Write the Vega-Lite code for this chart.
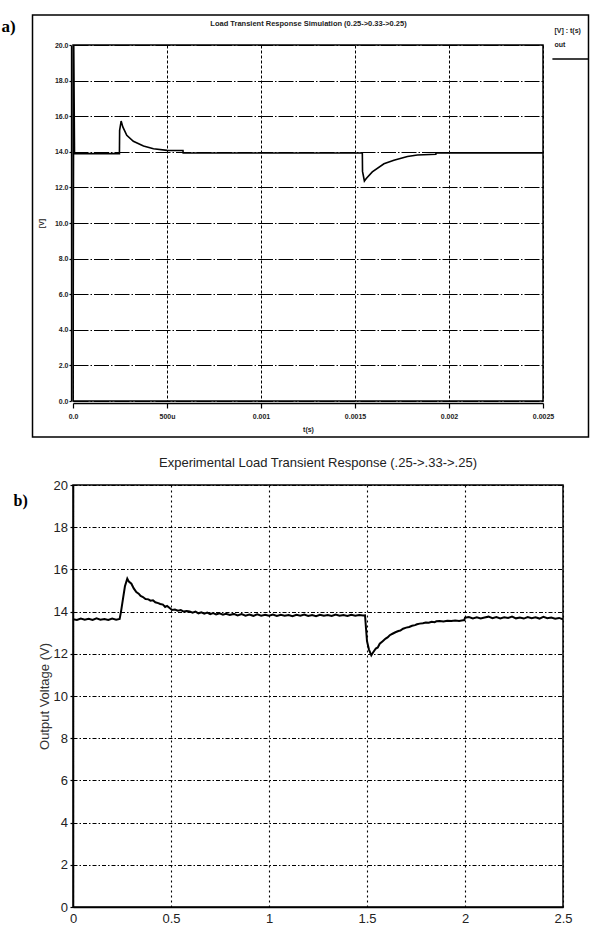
{
  "$schema": "https://vega.github.io/schema/vega-lite/v6.json",
  "background": "white",
  "padding": {"left": 0, "top": 13, "right": 0, "bottom": 5},
  "spacing": 84,
  "bounds": "flush",
  "config": {
    "font": "Liberation Sans",
    "view": {"stroke": "black", "strokeWidth": 1.5}
  },
  "datasets": {
    "sim": [
      {"t": 0, "v": 0}, {"t": 0.000004, "v": 20}, {"t": 0.000008, "v": 13.9},
      {"t": 0.000247, "v": 13.9}, {"t": 0.000248, "v": 15.2}, {"t": 0.000256, "v": 15.73},
      {"t": 0.000265, "v": 15.4}, {"t": 0.000286, "v": 14.93}, {"t": 0.000321, "v": 14.59},
      {"t": 0.000375, "v": 14.33}, {"t": 0.000428, "v": 14.17}, {"t": 0.0005, "v": 14.08},
      {"t": 0.000585, "v": 14.07}, {"t": 0.000586, "v": 13.93}, {"t": 0.001539, "v": 13.93},
      {"t": 0.00154, "v": 12.9}, {"t": 0.00155, "v": 12.36}, {"t": 0.00156, "v": 12.5},
      {"t": 0.001592, "v": 12.87}, {"t": 0.001654, "v": 13.33}, {"t": 0.001707, "v": 13.52},
      {"t": 0.001779, "v": 13.74}, {"t": 0.001832, "v": 13.82}, {"t": 0.00193, "v": 13.86},
      {"t": 0.001931, "v": 13.94}, {"t": 0.0025, "v": 13.94}
    ],
    "exp": [
      {"t": 0, "v": 13.64}, {"t": 0.02, "v": 13.6}, {"t": 0.04, "v": 13.67}, {"t": 0.06, "v": 13.62},
      {"t": 0.08, "v": 13.66}, {"t": 0.1, "v": 13.6}, {"t": 0.12, "v": 13.68}, {"t": 0.14, "v": 13.62},
      {"t": 0.16, "v": 13.65}, {"t": 0.18, "v": 13.6}, {"t": 0.2, "v": 13.67}, {"t": 0.22, "v": 13.62},
      {"t": 0.238, "v": 13.65}, {"t": 0.245, "v": 14.0}, {"t": 0.255, "v": 14.6}, {"t": 0.265, "v": 15.2},
      {"t": 0.277, "v": 15.56}, {"t": 0.285, "v": 15.42}, {"t": 0.298, "v": 15.32}, {"t": 0.31, "v": 15.1},
      {"t": 0.323, "v": 14.93}, {"t": 0.335, "v": 14.85}, {"t": 0.345, "v": 14.74}, {"t": 0.357, "v": 14.69},
      {"t": 0.37, "v": 14.6}, {"t": 0.385, "v": 14.58}, {"t": 0.395, "v": 14.52}, {"t": 0.408, "v": 14.54},
      {"t": 0.42, "v": 14.44}, {"t": 0.435, "v": 14.4}, {"t": 0.445, "v": 14.36}, {"t": 0.459, "v": 14.33},
      {"t": 0.47, "v": 14.22}, {"t": 0.48, "v": 14.27}, {"t": 0.493, "v": 14.17}, {"t": 0.505, "v": 14.08},
      {"t": 0.52, "v": 14.1}, {"t": 0.535, "v": 14.04}, {"t": 0.55, "v": 14.07}, {"t": 0.565, "v": 14.0},
      {"t": 0.58, "v": 14.03}, {"t": 0.595, "v": 14.01}, {"t": 0.61, "v": 13.95}, {"t": 0.625, "v": 14.0},
      {"t": 0.64, "v": 13.92}, {"t": 0.655, "v": 13.97}, {"t": 0.67, "v": 13.9}, {"t": 0.685, "v": 13.95},
      {"t": 0.7, "v": 13.88}, {"t": 0.715, "v": 13.93}, {"t": 0.73, "v": 13.87}, {"t": 0.748, "v": 13.92},
      {"t": 0.765, "v": 13.85}, {"t": 0.78, "v": 13.9}, {"t": 0.8, "v": 13.84}, {"t": 0.82, "v": 13.89},
      {"t": 0.84, "v": 13.82}, {"t": 0.86, "v": 13.88}, {"t": 0.88, "v": 13.81}, {"t": 0.9, "v": 13.86},
      {"t": 0.92, "v": 13.8}, {"t": 0.94, "v": 13.87}, {"t": 0.96, "v": 13.81}, {"t": 0.98, "v": 13.85},
      {"t": 1.0, "v": 13.8}, {"t": 1.02, "v": 13.86}, {"t": 1.04, "v": 13.79}, {"t": 1.06, "v": 13.85},
      {"t": 1.08, "v": 13.8}, {"t": 1.1, "v": 13.84}, {"t": 1.12, "v": 13.78}, {"t": 1.14, "v": 13.85},
      {"t": 1.16, "v": 13.8}, {"t": 1.18, "v": 13.86}, {"t": 1.2, "v": 13.79}, {"t": 1.22, "v": 13.84},
      {"t": 1.24, "v": 13.78}, {"t": 1.26, "v": 13.85}, {"t": 1.28, "v": 13.8}, {"t": 1.3, "v": 13.84},
      {"t": 1.32, "v": 13.79}, {"t": 1.34, "v": 13.86}, {"t": 1.36, "v": 13.8}, {"t": 1.38, "v": 13.84},
      {"t": 1.4, "v": 13.79}, {"t": 1.42, "v": 13.85}, {"t": 1.44, "v": 13.8}, {"t": 1.46, "v": 13.84},
      {"t": 1.48, "v": 13.81}, {"t": 1.49, "v": 13.82}, {"t": 1.495, "v": 13.2}, {"t": 1.5, "v": 12.6},
      {"t": 1.51, "v": 12.2}, {"t": 1.522, "v": 11.93}, {"t": 1.53, "v": 12.05}, {"t": 1.545, "v": 12.25},
      {"t": 1.555, "v": 12.3}, {"t": 1.565, "v": 12.48}, {"t": 1.58, "v": 12.6}, {"t": 1.595, "v": 12.72},
      {"t": 1.605, "v": 12.78}, {"t": 1.616, "v": 12.88}, {"t": 1.63, "v": 12.95}, {"t": 1.645, "v": 13.02},
      {"t": 1.66, "v": 13.08}, {"t": 1.67, "v": 13.1}, {"t": 1.684, "v": 13.19}, {"t": 1.7, "v": 13.24},
      {"t": 1.715, "v": 13.27}, {"t": 1.73, "v": 13.33}, {"t": 1.745, "v": 13.36}, {"t": 1.755, "v": 13.4},
      {"t": 1.769, "v": 13.43}, {"t": 1.785, "v": 13.45}, {"t": 1.8, "v": 13.48}, {"t": 1.815, "v": 13.47},
      {"t": 1.83, "v": 13.52}, {"t": 1.845, "v": 13.5}, {"t": 1.854, "v": 13.54}, {"t": 1.87, "v": 13.55},
      {"t": 1.89, "v": 13.53}, {"t": 1.91, "v": 13.57}, {"t": 1.93, "v": 13.55}, {"t": 1.95, "v": 13.58},
      {"t": 1.97, "v": 13.56}, {"t": 1.99, "v": 13.59}, {"t": 1.996, "v": 13.59}, {"t": 2.0, "v": 13.71},
      {"t": 2.02, "v": 13.74}, {"t": 2.04, "v": 13.68}, {"t": 2.06, "v": 13.73}, {"t": 2.08, "v": 13.67},
      {"t": 2.1, "v": 13.72}, {"t": 2.12, "v": 13.76}, {"t": 2.14, "v": 13.69}, {"t": 2.16, "v": 13.74},
      {"t": 2.18, "v": 13.68}, {"t": 2.2, "v": 13.73}, {"t": 2.22, "v": 13.7}, {"t": 2.24, "v": 13.76},
      {"t": 2.26, "v": 13.68}, {"t": 2.28, "v": 13.72}, {"t": 2.3, "v": 13.67}, {"t": 2.32, "v": 13.74},
      {"t": 2.34, "v": 13.69}, {"t": 2.36, "v": 13.73}, {"t": 2.38, "v": 13.67}, {"t": 2.4, "v": 13.75},
      {"t": 2.42, "v": 13.69}, {"t": 2.44, "v": 13.72}, {"t": 2.46, "v": 13.66}, {"t": 2.48, "v": 13.7},
      {"t": 2.5, "v": 13.63}
    ]
  },
  "vconcat": [
    {
      "width": 470,
      "height": 356,
      "layer": [
        {
          "data": {"name": "sim"},
          "mark": {"type": "line", "color": "black", "strokeWidth": 1.6, "clip": true},
          "encoding": {
            "x": {
              "field": "t", "type": "quantitative",
              "scale": {"domain": [0, 0.0025], "nice": false, "zero": false},
              "axis": {
                "values": [0, 0.0005, 0.001, 0.0015, 0.002, 0.0025],
                "labelExpr": "datum.value == 0 ? '0.0' : (datum.value == 0.0005 ? '500u' : format(datum.value, '~g'))",
                "title": "t(s)", "titleFontSize": 7, "titleFontWeight": "bold", "titleColor": "#222", "titlePadding": 6,
                "offset": 2, "domainColor": "black", "domainWidth": 1.3,
                "tickColor": "black", "tickSize": 5, "tickWidth": 1.2,
                "labelFontSize": 7, "labelFontWeight": "bold", "labelColor": "#222", "labelPadding": 4,
                "labelFlush": false, "labelOverlap": false,
                "grid": true, "gridColor": "black", "gridWidth": 1, "gridDash": [3, 2]
              }
            },
            "y": {
              "field": "v", "type": "quantitative",
              "scale": {"domain": [0, 20], "nice": false, "zero": false},
              "axis": {
                "values": [0, 2, 4, 6, 8, 10, 12, 14, 16, 18, 20],
                "format": ".1f",
                "title": "[V]", "titleFontSize": 7, "titleFontWeight": "bold", "titleColor": "#222", "titlePadding": 10,
                "offset": 2, "domainColor": "black", "domainWidth": 1.3,
                "tickColor": "black", "tickSize": 2, "tickWidth": 1.2,
                "labelFontSize": 7, "labelFontWeight": "bold", "labelColor": "#222", "labelPadding": 1,
                "labelOverlap": false,
                "grid": true, "gridColor": "black", "gridWidth": 1, "gridDash": [15, 2, 1.5, 2]
              }
            }
          }
        },
        {
          "data": {"values": [{}]},
          "mark": {"type": "rect", "filled": false, "stroke": "black", "strokeWidth": 1.5, "clip": false},
          "encoding": {
            "x": {"datum": -0.0002154, "type": "quantitative"},
            "x2": {"datum": 0.002742},
            "y": {
              "datum": 21.685, "type": "quantitative",
              "axis": {
                "values": [0, 2, 4, 6, 8, 10, 12, 14, 16, 18, 20],
                "format": ".1f",
                "title": "[V]", "titleFontSize": 7, "titleFontWeight": "bold", "titleColor": "#222", "titlePadding": 10,
                "offset": 2, "domainColor": "black", "domainWidth": 1.3,
                "tickColor": "black", "tickSize": 2, "tickWidth": 1.2,
                "labelFontSize": 7, "labelFontWeight": "bold", "labelColor": "#222", "labelPadding": 1,
                "labelOverlap": false,
                "grid": true, "gridColor": "black", "gridWidth": 1, "gridDash": [15, 2, 1.5, 2]
              }
            },
            "y2": {"datum": -2.022}
          }
        },
        {
          "data": {"values": [{}]},
          "mark": {"type": "text", "align": "center", "baseline": "middle", "fontSize": 7.5, "fontWeight": "bold", "color": "#222", "clip": false},
          "encoding": {
            "x": {"datum": 0.0012527, "type": "quantitative"},
            "y": {
              "datum": 21.18, "type": "quantitative",
              "axis": {
                "values": [0, 2, 4, 6, 8, 10, 12, 14, 16, 18, 20],
                "format": ".1f",
                "title": "[V]", "titleFontSize": 7, "titleFontWeight": "bold", "titleColor": "#222", "titlePadding": 10,
                "offset": 2, "domainColor": "black", "domainWidth": 1.3,
                "tickColor": "black", "tickSize": 2, "tickWidth": 1.2,
                "labelFontSize": 7, "labelFontWeight": "bold", "labelColor": "#222", "labelPadding": 1,
                "labelOverlap": false,
                "grid": true, "gridColor": "black", "gridWidth": 1, "gridDash": [15, 2, 1.5, 2]
              }
            },
            "text": {"value": "Load Transient Response Simulation (0.25->0.33->0.25)"}
          }
        },
        {
          "data": {"values": [{}]},
          "mark": {"type": "text", "align": "left", "baseline": "middle", "fontSize": 7, "fontWeight": "bold", "color": "#222", "clip": false},
          "encoding": {
            "x": {"datum": 0.002561, "type": "quantitative"},
            "y": {
              "datum": 20.79, "type": "quantitative",
              "axis": {
                "values": [0, 2, 4, 6, 8, 10, 12, 14, 16, 18, 20],
                "format": ".1f",
                "title": "[V]", "titleFontSize": 7, "titleFontWeight": "bold", "titleColor": "#222", "titlePadding": 10,
                "offset": 2, "domainColor": "black", "domainWidth": 1.3,
                "tickColor": "black", "tickSize": 2, "tickWidth": 1.2,
                "labelFontSize": 7, "labelFontWeight": "bold", "labelColor": "#222", "labelPadding": 1,
                "labelOverlap": false,
                "grid": true, "gridColor": "black", "gridWidth": 1, "gridDash": [15, 2, 1.5, 2]
              }
            },
            "text": {"value": "[V] : t(s)"}
          }
        },
        {
          "data": {"values": [{}]},
          "mark": {"type": "text", "align": "left", "baseline": "middle", "fontSize": 7, "fontWeight": "bold", "color": "#222", "clip": false},
          "encoding": {
            "x": {"datum": 0.002561, "type": "quantitative"},
            "y": {
              "datum": 20.0, "type": "quantitative",
              "axis": {
                "values": [0, 2, 4, 6, 8, 10, 12, 14, 16, 18, 20],
                "format": ".1f",
                "title": "[V]", "titleFontSize": 7, "titleFontWeight": "bold", "titleColor": "#222", "titlePadding": 10,
                "offset": 2, "domainColor": "black", "domainWidth": 1.3,
                "tickColor": "black", "tickSize": 2, "tickWidth": 1.2,
                "labelFontSize": 7, "labelFontWeight": "bold", "labelColor": "#222", "labelPadding": 1,
                "labelOverlap": false,
                "grid": true, "gridColor": "black", "gridWidth": 1, "gridDash": [15, 2, 1.5, 2]
              }
            },
            "text": {"value": "out"}
          }
        },
        {
          "data": {"values": [{}]},
          "mark": {"type": "rule", "color": "black", "strokeWidth": 1.5, "clip": false},
          "encoding": {
            "x": {"datum": 0.00255, "type": "quantitative"},
            "x2": {"datum": 0.002742},
            "y": {
              "datum": 19.21, "type": "quantitative",
              "axis": {
                "values": [0, 2, 4, 6, 8, 10, 12, 14, 16, 18, 20],
                "format": ".1f",
                "title": "[V]", "titleFontSize": 7, "titleFontWeight": "bold", "titleColor": "#222", "titlePadding": 10,
                "offset": 2, "domainColor": "black", "domainWidth": 1.3,
                "tickColor": "black", "tickSize": 2, "tickWidth": 1.2,
                "labelFontSize": 7, "labelFontWeight": "bold", "labelColor": "#222", "labelPadding": 1,
                "labelOverlap": false,
                "grid": true, "gridColor": "black", "gridWidth": 1, "gridDash": [15, 2, 1.5, 2]
              }
            }
          }
        },
        {
          "data": {"values": [{}]},
          "mark": {"type": "text", "align": "left", "baseline": "middle", "fontSize": 17, "fontWeight": "bold", "font": "Liberation Serif", "color": "black", "clip": false},
          "encoding": {
            "x": {"datum": -0.0003803, "type": "quantitative"},
            "y": {
              "datum": 21.0, "type": "quantitative",
              "axis": {
                "values": [0, 2, 4, 6, 8, 10, 12, 14, 16, 18, 20],
                "format": ".1f",
                "title": "[V]", "titleFontSize": 7, "titleFontWeight": "bold", "titleColor": "#222", "titlePadding": 10,
                "offset": 2, "domainColor": "black", "domainWidth": 1.3,
                "tickColor": "black", "tickSize": 2, "tickWidth": 1.2,
                "labelFontSize": 7, "labelFontWeight": "bold", "labelColor": "#222", "labelPadding": 1,
                "labelOverlap": false,
                "grid": true, "gridColor": "black", "gridWidth": 1, "gridDash": [15, 2, 1.5, 2]
              }
            },
            "text": {"value": "a)"}
          }
        }
      ]
    },
    {
      "width": 490,
      "height": 422,
      "title": {
        "text": "Experimental Load Transient Response (.25->.33->.25)",
        "fontSize": 13, "fontWeight": "normal", "font": "Liberation Sans", "color": "#222",
        "offset": 9, "frame": "group", "anchor": "middle"
      },
      "layer": [
        {
          "data": {"name": "exp"},
          "mark": {"type": "line", "color": "black", "strokeWidth": 2, "clip": true},
          "encoding": {
            "x": {
              "field": "t", "type": "quantitative",
              "scale": {"domain": [0, 2.5], "nice": false, "zero": false},
              "axis": {
                "values": [0, 0.5, 1, 1.5, 2, 2.5], "format": "~g",
                "title": null, "domainColor": "black", "domainWidth": 1.5,
                "tickSize": 0, "labelFontSize": 13, "labelColor": "#222", "labelPadding": 5,
                "labelFlush": false, "labelOverlap": false,
                "grid": true, "gridColor": "black", "gridWidth": 1.1, "gridDash": [2, 3]
              }
            },
            "y": {
              "field": "v", "type": "quantitative",
              "scale": {"domain": [0, 20], "nice": false},
              "axis": {
                "values": [0, 2, 4, 6, 8, 10, 12, 14, 16, 18, 20], "format": "d",
                "title": "Output Voltage (V)", "titleFontSize": 13, "titleFontWeight": "normal", "titleColor": "#333", "titlePadding": 2,
                "domainColor": "black", "domainWidth": 1.5,
                "tickColor": "black", "tickSize": 3, "tickWidth": 1.2,
                "labelFontSize": 13, "labelColor": "#222", "labelPadding": 2.5, "labelOverlap": false,
                "grid": true, "gridColor": "black", "gridWidth": 1.1, "gridDash": [4, 2, 1.5, 2]
              }
            }
          }
        },
        {
          "data": {"values": [{}]},
          "mark": {"type": "text", "align": "left", "baseline": "middle", "fontSize": 16, "fontWeight": "bold", "font": "Liberation Serif", "color": "black", "clip": false},
          "encoding": {
            "x": {"datum": -0.3036, "type": "quantitative"},
            "y": {"datum": 19.24, "type": "quantitative"},
            "text": {"value": "b)"}
          }
        }
      ]
    }
  ]
}
